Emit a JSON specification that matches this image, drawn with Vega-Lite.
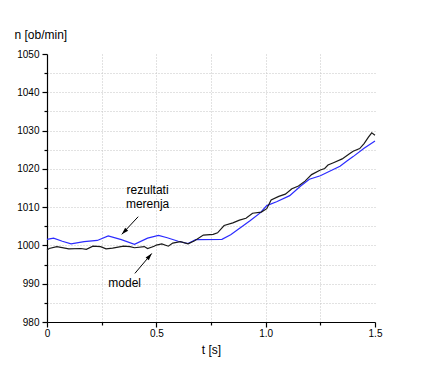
{
  "$schema": "https://vega.github.io/schema/vega-lite/v6.json",
  "width": 328,
  "height": 268,
  "autosize": "none",
  "padding": {"left": 47, "top": 54, "right": 50, "bottom": 48},
  "background": "white",
  "config": {
    "view": {"stroke": null},
    "font": "Liberation Sans",
    "axis": {"labelFont": "Liberation Sans", "titleFont": "Liberation Sans", "labelColor": "#000", "titleColor": "#000", "domainColor": "#000", "tickColor": "#000", "domainWidth": 1.2, "tickWidth": 1.2}
  },
  "datasets": {
    "lines": [
      {"t": 0, "n": 1001.6, "s": "merenja"},
      {"t": 0.03, "n": 1001.9, "s": "merenja"},
      {"t": 0.07, "n": 1001.1, "s": "merenja"},
      {"t": 0.11, "n": 1000.4, "s": "merenja"},
      {"t": 0.17, "n": 1001.0, "s": "merenja"},
      {"t": 0.23, "n": 1001.3, "s": "merenja"},
      {"t": 0.28, "n": 1002.5, "s": "merenja"},
      {"t": 0.34, "n": 1001.5, "s": "merenja"},
      {"t": 0.40, "n": 1000.3, "s": "merenja"},
      {"t": 0.46, "n": 1001.9, "s": "merenja"},
      {"t": 0.51, "n": 1002.6, "s": "merenja"},
      {"t": 0.55, "n": 1002.0, "s": "merenja"},
      {"t": 0.60, "n": 1001.1, "s": "merenja"},
      {"t": 0.645, "n": 1000.5, "s": "merenja"},
      {"t": 0.68, "n": 1001.5, "s": "merenja"},
      {"t": 0.80, "n": 1001.6, "s": "merenja"},
      {"t": 0.84, "n": 1002.8, "s": "merenja"},
      {"t": 0.87, "n": 1004.0, "s": "merenja"},
      {"t": 0.93, "n": 1006.5, "s": "merenja"},
      {"t": 0.975, "n": 1008.5, "s": "merenja"},
      {"t": 1.005, "n": 1010.4, "s": "merenja"},
      {"t": 1.05, "n": 1011.4, "s": "merenja"},
      {"t": 1.11, "n": 1013.0, "s": "merenja"},
      {"t": 1.16, "n": 1015.5, "s": "merenja"},
      {"t": 1.20, "n": 1017.3, "s": "merenja"},
      {"t": 1.25, "n": 1018.2, "s": "merenja"},
      {"t": 1.29, "n": 1019.3, "s": "merenja"},
      {"t": 1.34, "n": 1020.7, "s": "merenja"},
      {"t": 1.37, "n": 1022.0, "s": "merenja"},
      {"t": 1.40, "n": 1023.2, "s": "merenja"},
      {"t": 1.45, "n": 1025.4, "s": "merenja"},
      {"t": 1.5, "n": 1027.3, "s": "merenja"},
      {"t": 0, "n": 998.8, "s": "model"},
      {"t": 0.01, "n": 999.2, "s": "model"},
      {"t": 0.045, "n": 999.7, "s": "model"},
      {"t": 0.10, "n": 999.1, "s": "model"},
      {"t": 0.155, "n": 999.2, "s": "model"},
      {"t": 0.18, "n": 999.0, "s": "model"},
      {"t": 0.21, "n": 999.8, "s": "model"},
      {"t": 0.245, "n": 999.7, "s": "model"},
      {"t": 0.27, "n": 999.1, "s": "model"},
      {"t": 0.30, "n": 999.3, "s": "model"},
      {"t": 0.35, "n": 999.8, "s": "model"},
      {"t": 0.38, "n": 999.7, "s": "model"},
      {"t": 0.40, "n": 999.4, "s": "model"},
      {"t": 0.445, "n": 999.7, "s": "model"},
      {"t": 0.46, "n": 999.2, "s": "model"},
      {"t": 0.49, "n": 999.8, "s": "model"},
      {"t": 0.50, "n": 1000.1, "s": "model"},
      {"t": 0.525, "n": 1000.4, "s": "model"},
      {"t": 0.555, "n": 999.8, "s": "model"},
      {"t": 0.575, "n": 1000.6, "s": "model"},
      {"t": 0.61, "n": 1001.0, "s": "model"},
      {"t": 0.645, "n": 1000.4, "s": "model"},
      {"t": 0.675, "n": 1001.2, "s": "model"},
      {"t": 0.715, "n": 1002.7, "s": "model"},
      {"t": 0.76, "n": 1002.9, "s": "model"},
      {"t": 0.78, "n": 1003.3, "s": "model"},
      {"t": 0.81, "n": 1005.2, "s": "model"},
      {"t": 0.85, "n": 1005.9, "s": "model"},
      {"t": 0.88, "n": 1006.6, "s": "model"},
      {"t": 0.91, "n": 1007.1, "s": "model"},
      {"t": 0.94, "n": 1008.4, "s": "model"},
      {"t": 0.98, "n": 1008.7, "s": "model"},
      {"t": 1.005, "n": 1009.6, "s": "model"},
      {"t": 1.025, "n": 1011.9, "s": "model"},
      {"t": 1.06, "n": 1012.8, "s": "model"},
      {"t": 1.09, "n": 1013.4, "s": "model"},
      {"t": 1.12, "n": 1014.8, "s": "model"},
      {"t": 1.15, "n": 1015.5, "s": "model"},
      {"t": 1.18, "n": 1016.8, "s": "model"},
      {"t": 1.21, "n": 1018.5, "s": "model"},
      {"t": 1.25, "n": 1019.7, "s": "model"},
      {"t": 1.27, "n": 1020.1, "s": "model"},
      {"t": 1.285, "n": 1021.0, "s": "model"},
      {"t": 1.31, "n": 1021.6, "s": "model"},
      {"t": 1.35, "n": 1022.6, "s": "model"},
      {"t": 1.38, "n": 1023.8, "s": "model"},
      {"t": 1.40, "n": 1024.6, "s": "model"},
      {"t": 1.43, "n": 1025.3, "s": "model"},
      {"t": 1.45, "n": 1026.6, "s": "model"},
      {"t": 1.47, "n": 1028.3, "s": "model"},
      {"t": 1.485, "n": 1029.4, "s": "model"},
      {"t": 1.5, "n": 1028.8, "s": "model"}
    ],
    "labels": [
      {"t": 0.46, "n": 1013.4, "label": "rezultati"},
      {"t": 0.46, "n": 1009.7, "label": "merenja"},
      {"t": 0.355, "n": 989.1, "label": "model"}
    ],
    "arrows": [
      {"t": 0.342, "n": 1002.9, "t2": 0.417, "n2": 1007.5, "a": "merenja"},
      {"t": 0.479, "n": 997.9, "t2": 0.402, "n2": 992.7, "a": "model"}
    ]
  },
  "encoding": {
    "x": {
      "field": "t", "type": "quantitative",
      "scale": {"domain": [0, 1.5], "nice": false, "zero": false},
      "axis": {
        "title": "t [s]", "titleFontSize": 12, "titleFontWeight": "normal",
        "titleBaseline": "alphabetic", "titleY": 31,
        "values": [0, 0.25, 0.5, 0.75, 1.0, 1.25, 1.5],
        "labelExpr": "datum.value == 0 ? '0' : (datum.value * 2 == round(datum.value * 2) ? format(datum.value, '.1f') : '')",
        "labelFontSize": 10, "labelFlush": false, "labelOverlap": false, "labelPadding": 1,
        "tickSize": {"condition": {"test": "datum.value * 2 == round(datum.value * 2)", "value": 5}, "value": 3},
        "grid": true, "gridColor": "#c4c4c4", "gridDash": [1, 2], "gridWidth": 1,
        "gridOpacity": {"condition": {"test": "datum.value == 0 || datum.value == 1.5", "value": 0}, "value": 1}
      }
    },
    "y": {
      "field": "n", "type": "quantitative",
      "scale": {"domain": [980, 1050], "nice": false, "zero": false},
      "axis": {
        "title": "n [ob/min]", "titleAngle": 0, "titleAlign": "left", "titleBaseline": "alphabetic",
        "titleX": -33, "titleY": -16, "titleFontSize": 12, "titleFontWeight": "normal",
        "values": [980, 985, 990, 995, 1000, 1005, 1010, 1015, 1020, 1025, 1030, 1035, 1040, 1045, 1050],
        "labelExpr": "datum.value % 10 == 0 ? format(datum.value, 'd') : ''",
        "labelFontSize": 10, "labelFlush": false, "labelOverlap": false, "labelPadding": 3,
        "tickSize": {"condition": {"test": "datum.value % 10 == 0", "value": 5}, "value": 3},
        "grid": true, "gridColor": "#c4c4c4", "gridDash": [1, 2], "gridWidth": 1,
        "gridOpacity": {"condition": {"test": "datum.value == 980 || datum.value == 1050", "value": 0}, "value": 1}
      }
    }
  },
  "layer": [
    {
      "data": {"name": "lines"},
      "mark": {"type": "line", "strokeWidth": 1.2},
      "encoding": {
        "color": {
          "field": "s", "type": "nominal",
          "scale": {"domain": ["merenja", "model"], "range": ["#2b2bff", "#1a1a1a"]},
          "legend": null
        },
        "order": {"field": "t", "type": "quantitative"}
      }
    },
    {
      "data": {"name": "labels"},
      "mark": {"type": "text", "fontSize": 12, "align": "center", "baseline": "alphabetic", "color": "#000", "font": "Liberation Sans"},
      "encoding": {
        "text": {"field": "label"}
      }
    },
    {
      "data": {"name": "arrows"},
      "mark": {"type": "rule", "color": "#000", "strokeWidth": 1},
      "encoding": {
        "x2": {"field": "t2"},
        "y2": {"field": "n2"}
      }
    },
    {
      "data": {"name": "arrows"},
      "mark": {"type": "point", "shape": "M0,0L-0.6,2L0.6,2Z", "filled": true, "color": "#000", "opacity": 1, "size": 49},
      "encoding": {
        "angle": {"condition": {"test": "datum.a == 'model'", "value": 40}, "value": 224}
      }
    }
  ]
}
